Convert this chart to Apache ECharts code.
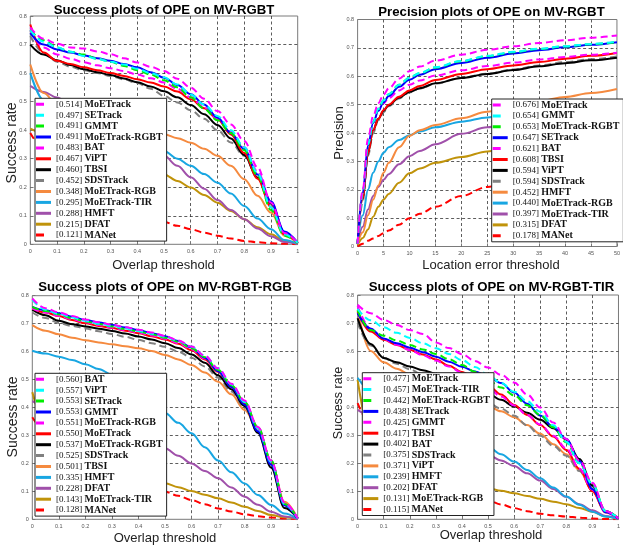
<!DOCTYPE html>
<html><head><meta charset="utf-8">
<script src="https://cdn.jsdelivr.net/npm/echarts@6/dist/echarts.min.js"></script>
<style>html,body{margin:0;padding:0;background:#fff}#c{width:623px;height:551px}</style>
</head><body><div id="c"></div>
<script>
// ---------- thresholds ----------
const overlapThresholds = [0,0.05,0.1,0.15,0.2,0.25,0.3,0.35,0.4,0.45,0.5,0.55,0.6,0.65,0.7,0.75,0.8,0.85,0.9,0.95,1];
const errorThresholds = [0,1,2,3,4,5,6,8,10,12,15,20,25,30,35,40,45,50];

// ---------- Panel 1: Success plots of OPE on MV-RGBT ----------
const names1 = ['MoETrack','SETrack','GMMT','MoETrack-RGBT','BAT','ViPT','TBSI','SDSTrack','MoETrack-RGB','MoETrack-TIR','HMFT','DFAT','MANet'];
const scores1 = [0.514,0.497,0.491,0.491,0.483,0.467,0.460,0.452,0.348,0.295,0.288,0.215,0.121];
const curves1 = [
  [0.76,0.72,0.703,0.69,0.686,0.676,0.666,0.652,0.637,0.622,0.607,0.58,0.549,0.51,0.467,0.42,0.362,0.27,0.146,0.04,0.005],
  [0.75,0.71,0.69,0.675,0.66,0.65,0.64,0.63,0.615,0.60,0.585,0.56,0.525,0.49,0.45,0.40,0.34,0.25,0.13,0.035,0.005],
  [0.75,0.715,0.69,0.675,0.665,0.65,0.64,0.625,0.61,0.595,0.575,0.55,0.515,0.475,0.435,0.39,0.33,0.24,0.12,0.03,0.005],
  [0.74,0.70,0.683,0.672,0.662,0.652,0.643,0.632,0.62,0.603,0.584,0.558,0.526,0.49,0.444,0.39,0.333,0.245,0.15,0.045,0.005],
  [0.75,0.69,0.665,0.65,0.638,0.627,0.617,0.607,0.595,0.582,0.567,0.545,0.515,0.48,0.44,0.395,0.34,0.255,0.15,0.04,0.005],
  [0.77,0.672,0.643,0.632,0.62,0.61,0.6,0.59,0.578,0.567,0.553,0.535,0.508,0.477,0.438,0.385,0.32,0.23,0.13,0.035,0.005],
  [0.70,0.665,0.645,0.628,0.613,0.603,0.593,0.581,0.568,0.553,0.536,0.515,0.488,0.456,0.418,0.371,0.313,0.232,0.145,0.04,0.005],
  [0.73,0.67,0.64,0.622,0.61,0.6,0.59,0.578,0.565,0.545,0.52,0.497,0.47,0.44,0.40,0.357,0.31,0.235,0.14,0.04,0.005],
  [0.63,0.53,0.49,0.465,0.45,0.44,0.43,0.42,0.40,0.393,0.386,0.372,0.356,0.335,0.31,0.275,0.228,0.17,0.111,0.03,0.003],
  [0.60,0.505,0.465,0.435,0.413,0.393,0.377,0.362,0.35,0.34,0.327,0.30,0.275,0.246,0.216,0.178,0.134,0.09,0.053,0.015,0.002],
  [0.555,0.534,0.514,0.49,0.465,0.44,0.415,0.39,0.365,0.34,0.31,0.275,0.235,0.195,0.155,0.12,0.088,0.055,0.028,0.008,0.001],
  [0.405,0.39,0.36,0.345,0.33,0.315,0.30,0.285,0.27,0.26,0.245,0.222,0.199,0.173,0.146,0.117,0.088,0.06,0.035,0.012,0.001],
  [0.39,0.335,0.285,0.245,0.21,0.18,0.155,0.132,0.113,0.095,0.078,0.065,0.053,0.041,0.03,0.02,0.012,0.007,0.004,0.002,0]
];

// ---------- Panel 2: Precision plots of OPE on MV-RGBT ----------
const names2 = ['MoETrack','GMMT','MoETrack-RGBT','SETrack','BAT','TBSI','ViPT','SDSTrack','HMFT','MoETrack-RGB','MoETrack-TIR','DFAT','MANet'];
const scores2 = [0.676,0.654,0.653,0.647,0.621,0.608,0.594,0.594,0.452,0.440,0.397,0.315,0.178];
const curves2 = [
  [0.01,0.2,0.38,0.46,0.505,0.535,0.557,0.592,0.618,0.634,0.655,0.676,0.693,0.706,0.717,0.727,0.736,0.744],
  [0.01,0.19,0.36,0.44,0.485,0.515,0.537,0.57,0.595,0.612,0.632,0.654,0.672,0.686,0.697,0.706,0.714,0.722],
  [0.01,0.19,0.36,0.44,0.485,0.515,0.537,0.57,0.595,0.611,0.631,0.653,0.671,0.685,0.696,0.705,0.713,0.72],
  [0.01,0.19,0.355,0.435,0.478,0.508,0.53,0.563,0.588,0.605,0.625,0.647,0.665,0.68,0.692,0.702,0.711,0.72],
  [0.01,0.19,0.36,0.44,0.48,0.505,0.523,0.55,0.57,0.585,0.603,0.621,0.636,0.648,0.659,0.668,0.676,0.683],
  [0.01,0.17,0.33,0.41,0.45,0.48,0.5,0.528,0.55,0.566,0.587,0.608,0.625,0.638,0.65,0.662,0.672,0.682],
  [0.01,0.17,0.33,0.41,0.45,0.478,0.498,0.525,0.545,0.558,0.575,0.594,0.608,0.622,0.635,0.646,0.656,0.665],
  [0.01,0.16,0.32,0.4,0.445,0.473,0.494,0.522,0.543,0.557,0.574,0.594,0.609,0.624,0.638,0.65,0.66,0.67],
  [0.01,0.05,0.11,0.165,0.215,0.26,0.295,0.35,0.39,0.41,0.428,0.452,0.475,0.495,0.512,0.527,0.541,0.555],
  [0.01,0.11,0.2,0.26,0.3,0.33,0.35,0.375,0.392,0.405,0.42,0.44,0.455,0.468,0.48,0.491,0.502,0.512],
  [0.01,0.07,0.13,0.178,0.21,0.235,0.255,0.29,0.318,0.337,0.36,0.397,0.42,0.44,0.457,0.472,0.487,0.5],
  [0.005,0.03,0.06,0.105,0.14,0.165,0.185,0.225,0.258,0.275,0.295,0.315,0.335,0.352,0.366,0.378,0.39,0.40],
  [0,0.01,0.02,0.028,0.037,0.047,0.056,0.077,0.1,0.115,0.14,0.178,0.21,0.235,0.258,0.277,0.295,0.31]
];

// ---------- Panel 3: Success plots of OPE on MV-RGBT-RGB ----------
const names3 = ['BAT','ViPT','SETrack','GMMT','MoETrack-RGB','MoETrack','MoETrack-RGBT','SDSTrack','TBSI','HMFT','DFAT','MoETrack-TIR','MANet'];
const scores3 = [0.560,0.557,0.553,0.553,0.551,0.550,0.537,0.525,0.501,0.335,0.228,0.143,0.128];
const curves3 = [
  [0.79,0.755,0.74,0.727,0.715,0.705,0.696,0.687,0.678,0.668,0.656,0.64,0.618,0.585,0.54,0.485,0.425,0.33,0.21,0.06,0.003],
  [0.785,0.75,0.735,0.722,0.71,0.7,0.692,0.683,0.674,0.664,0.653,0.638,0.618,0.585,0.54,0.483,0.42,0.325,0.205,0.055,0.003],
  [0.76,0.745,0.733,0.72,0.708,0.699,0.69,0.681,0.672,0.662,0.65,0.635,0.612,0.58,0.535,0.48,0.42,0.33,0.21,0.055,0.003],
  [0.76,0.748,0.737,0.725,0.713,0.704,0.695,0.686,0.677,0.666,0.655,0.638,0.614,0.578,0.53,0.473,0.41,0.315,0.195,0.05,0.002],
  [0.755,0.74,0.728,0.716,0.705,0.695,0.686,0.677,0.668,0.658,0.646,0.63,0.608,0.575,0.532,0.478,0.42,0.33,0.21,0.055,0.003],
  [0.755,0.74,0.727,0.713,0.701,0.692,0.684,0.675,0.666,0.655,0.643,0.628,0.605,0.572,0.528,0.475,0.415,0.325,0.205,0.055,0.003],
  [0.75,0.73,0.71,0.698,0.69,0.682,0.674,0.665,0.654,0.643,0.63,0.613,0.59,0.56,0.515,0.465,0.405,0.31,0.185,0.04,0.003],
  [0.74,0.72,0.702,0.692,0.683,0.673,0.663,0.653,0.642,0.63,0.617,0.6,0.578,0.547,0.507,0.457,0.4,0.31,0.188,0.042,0.003],
  [0.695,0.675,0.662,0.65,0.641,0.633,0.626,0.619,0.612,0.602,0.588,0.572,0.552,0.525,0.492,0.447,0.391,0.325,0.206,0.063,0.003],
  [0.603,0.593,0.582,0.57,0.555,0.538,0.518,0.48,0.44,0.41,0.38,0.345,0.308,0.258,0.21,0.168,0.128,0.087,0.051,0.021,0.001],
  [0.423,0.405,0.39,0.375,0.36,0.345,0.33,0.313,0.295,0.275,0.254,0.227,0.2,0.173,0.147,0.114,0.081,0.052,0.027,0.01,0.001],
  [0.455,0.34,0.28,0.24,0.21,0.19,0.173,0.158,0.147,0.138,0.129,0.115,0.101,0.088,0.075,0.06,0.045,0.03,0.015,0.007,0.001],
  [0.365,0.315,0.278,0.245,0.215,0.19,0.168,0.148,0.13,0.114,0.099,0.084,0.069,0.054,0.039,0.028,0.018,0.011,0.006,0.003,0]
];

// ---------- Panel 4: Success plots of OPE on MV-RGBT-TIR ----------
const names4 = ['MoETrack','MoETrack-TIR','MoETrack-RGBT','SETrack','GMMT','TBSI','BAT','SDSTrack','ViPT','HMFT','DFAT','MoETrack-RGB','MANet'];
const scores4 = [0.477,0.457,0.442,0.438,0.425,0.417,0.402,0.375,0.371,0.239,0.202,0.131,0.115];
const curves4 = [
  [0.765,0.735,0.711,0.693,0.675,0.661,0.631,0.611,0.589,0.565,0.541,0.515,0.488,0.445,0.399,0.345,0.286,0.21,0.13,0.03,0.003],
  [0.75,0.71,0.685,0.665,0.647,0.628,0.61,0.59,0.568,0.543,0.515,0.486,0.455,0.421,0.384,0.335,0.277,0.2,0.125,0.03,0.003],
  [0.745,0.675,0.655,0.638,0.622,0.606,0.59,0.571,0.55,0.526,0.497,0.47,0.442,0.407,0.372,0.328,0.274,0.2,0.127,0.03,0.003],
  [0.735,0.68,0.645,0.628,0.612,0.596,0.58,0.562,0.544,0.527,0.51,0.486,0.452,0.412,0.37,0.328,0.287,0.208,0.108,0.025,0.003],
  [0.76,0.68,0.643,0.623,0.603,0.585,0.566,0.545,0.523,0.498,0.468,0.438,0.406,0.372,0.338,0.298,0.253,0.18,0.105,0.025,0.003],
  [0.74,0.67,0.64,0.622,0.605,0.588,0.57,0.548,0.525,0.5,0.477,0.445,0.408,0.372,0.336,0.295,0.247,0.18,0.1,0.025,0.003],
  [0.717,0.625,0.575,0.56,0.545,0.532,0.519,0.505,0.49,0.47,0.448,0.426,0.403,0.38,0.355,0.325,0.285,0.215,0.12,0.03,0.003],
  [0.70,0.62,0.575,0.555,0.535,0.515,0.495,0.475,0.455,0.435,0.415,0.395,0.37,0.335,0.298,0.262,0.227,0.172,0.108,0.03,0.003],
  [0.745,0.6,0.56,0.537,0.517,0.5,0.484,0.465,0.445,0.425,0.405,0.385,0.364,0.336,0.305,0.268,0.232,0.175,0.1,0.025,0.003],
  [0.505,0.46,0.43,0.405,0.383,0.363,0.343,0.323,0.303,0.28,0.259,0.232,0.206,0.176,0.146,0.113,0.081,0.052,0.027,0.01,0.001],
  [0.39,0.37,0.353,0.337,0.322,0.307,0.292,0.277,0.261,0.246,0.23,0.21,0.19,0.164,0.138,0.108,0.08,0.054,0.032,0.012,0.001],
  [0.497,0.3,0.24,0.2,0.175,0.158,0.145,0.135,0.126,0.118,0.111,0.102,0.093,0.083,0.073,0.063,0.054,0.04,0.027,0.01,0.001],
  [0.414,0.34,0.285,0.24,0.205,0.175,0.148,0.124,0.103,0.085,0.068,0.053,0.04,0.029,0.02,0.014,0.01,0.006,0.003,0.001,0]
];

// ---------- styles by rank ----------
const rankColors = ['#ff00ff','#00ffff','#00ee00','#0000ff','#ff00ff','#ff0000','#000000','#808080','#f58a3f','#18a6e2','#a050aa','#c0930a','#ff0000'];
const rankDashed = [true,true,true,false,true,false,false,true,false,false,false,false,true];

const panels = [
  {names:names1, scores:scores1, curves:curves1, thr:overlapThresholds, xMax:1, xInt:0.1,
   grid:{left:30.3, top:16, width:267.4, height:228.3}, legend:{left:35, top:98.3},
   title:{text:'Success plots of OPE on MV-RGBT', x:164, y:10},
   xName:{text:'Overlap threshold', x:163.5, y:265}, yName:{text:'Success rate', x:12, y:143, size:14}},
  {names:names2, scores:scores2, curves:curves2, thr:errorThresholds, xMax:50, xInt:5,
   grid:{left:357.6, top:19.5, width:265.2, height:227}, legend:{left:491.7, top:99},
   title:{text:'Precision plots of OPE on MV-RGBT', x:491.5, y:12.5},
   xName:{text:'Location error threshold', x:491, y:265}, yName:{text:'Precision', x:339, y:133, size:13}},
  {names:names3, scores:scores3, curves:curves3, thr:overlapThresholds, xMax:1, xInt:0.1,
   grid:{left:32.3, top:295.7, width:265.4, height:223.6}, legend:{left:35, top:373.3},
   title:{text:'Success plots of OPE on MV-RGBT-RGB', x:165, y:287.5},
   xName:{text:'Overlap threshold', x:165, y:538}, yName:{text:'Success rate', x:13, y:417, size:14}},
  {names:names4, scores:scores4, curves:curves4, thr:overlapThresholds, xMax:1, xInt:0.1,
   grid:{left:357.6, top:295, width:265.4, height:224.3}, legend:{left:362.3, top:372.7},
   title:{text:'Success plots of OPE on MV-RGBT-TIR', x:491.5, y:287},
   xName:{text:'Overlap threshold', x:491, y:535}, yName:{text:'Success rate', x:339, y:403, size:12.5}}
];

const dashIcon = 'path://M0,0L8,0L8,3L0,3ZM15,0L15,3';
const labelName = (s, n) => '[' + s.toFixed(3) + '] ' + n;

const option = {
  animation: false,
  backgroundColor: '#ffffff',
  grid: [], xAxis: [], yAxis: [], series: [], legend: [], graphic: []
};

panels.forEach((p, pi) => {
  option.grid.push(Object.assign({show:true, borderColor:'#7a7a7a', borderWidth:1, backgroundColor:'#fff', containLabel:false}, p.grid));
  const fmt = v => String(+v.toFixed(1));
  option.xAxis.push({
    type:'value', gridIndex:pi, min:0, max:p.xMax, interval:p.xInt,
    axisLine:{show:false},
    axisTick:{show:true, inside:true, length:3, lineStyle:{color:'#777', width:1}},
    axisLabel:{fontSize:5.5, color:'#555', margin:4, fontFamily:'Liberation Sans', formatter:fmt},
    splitLine:{show:true, showMinLine:false, showMaxLine:false, lineStyle:{color:'#333', width:0.8, type:[3,2.5]}}
  });
  option.yAxis.push({
    type:'value', gridIndex:pi, min:0, max:0.8, interval:0.1,
    axisLine:{show:false},
    axisTick:{show:true, inside:true, length:3, lineStyle:{color:'#777', width:1}},
    axisLabel:{fontSize:5.5, color:'#555', margin:3.5, fontFamily:'Liberation Sans', formatter:fmt},
    splitLine:{show:true, showMinLine:false, showMaxLine:false, lineStyle:{color:'#333', width:0.8, type:[3,2.5]}}
  });
  const legendData = [];
  for (let i = p.names.length - 1; i >= 0; i--) {
    const nm = labelName(p.scores[i], p.names[i]);
    option.series.push({
      type:'line', name:nm, xAxisIndex:pi, yAxisIndex:pi,
      data:p.thr.map((t, k) => [t, p.curves[i][k]]),
      symbol:'none', smooth:0.35, smoothMonotone:'x', clip:true,
      color:rankColors[i],
      lineStyle:{color:rankColors[i], width:2, type: rankDashed[i] ? [7,4] : 'solid'},
      z: 2 + (13 - i) * 0.01
    });
  }
  p.names.forEach((n, i) => {
    legendData.push({name: labelName(p.scores[i], n), icon: rankDashed[i] ? dashIcon : 'rect'});
  });
  option.legend.push({
    show:true, orient:'vertical', left:p.legend.left, top:p.legend.top,
    data:legendData, selectedMode:false,
    itemWidth:15, itemHeight:3, itemGap:0.9,
    itemStyle:{borderWidth:0},
    padding:[1,4,1,1], backgroundColor:'#fff', borderColor:'#222', borderWidth:1, borderRadius:0,
    z:10,
    formatter: name => {
      const m = name.match(/^(\[[^\]]+\])\s(.*)$/);
      return '{a|' + m[1] + ' }{b|' + m[2] + '}';
    },
    textStyle:{rich:{
      a:{fontFamily:'Liberation Serif', fontSize:9, color:'#111', lineHeight:10},
      b:{fontFamily:'Liberation Serif', fontSize:10, fontWeight:'bold', color:'#111', lineHeight:10}
    }}
  });
  option.graphic.push(
    {type:'text', x:p.title.x, y:p.title.y, z:20,
     style:{text:p.title.text, font:'bold 13.2px "Liberation Sans", Arial, sans-serif', fill:'#000', align:'center', verticalAlign:'middle'}},
    {type:'text', x:p.xName.x, y:p.xName.y, z:20,
     style:{text:p.xName.text, font:'13px "Liberation Sans", Arial, sans-serif', fill:'#222', align:'center', verticalAlign:'middle'}},
    {type:'text', x:p.yName.x, y:p.yName.y, rotation:Math.PI/2, z:20,
     style:{text:p.yName.text, font:p.yName.size + 'px "Liberation Sans", Arial, sans-serif', fill:'#222', align:'center', verticalAlign:'middle'}}
  );
});

const chart = echarts.init(document.getElementById('c'), null, {renderer:'canvas', width:623, height:551});
chart.setOption(option);
</script></body></html>
